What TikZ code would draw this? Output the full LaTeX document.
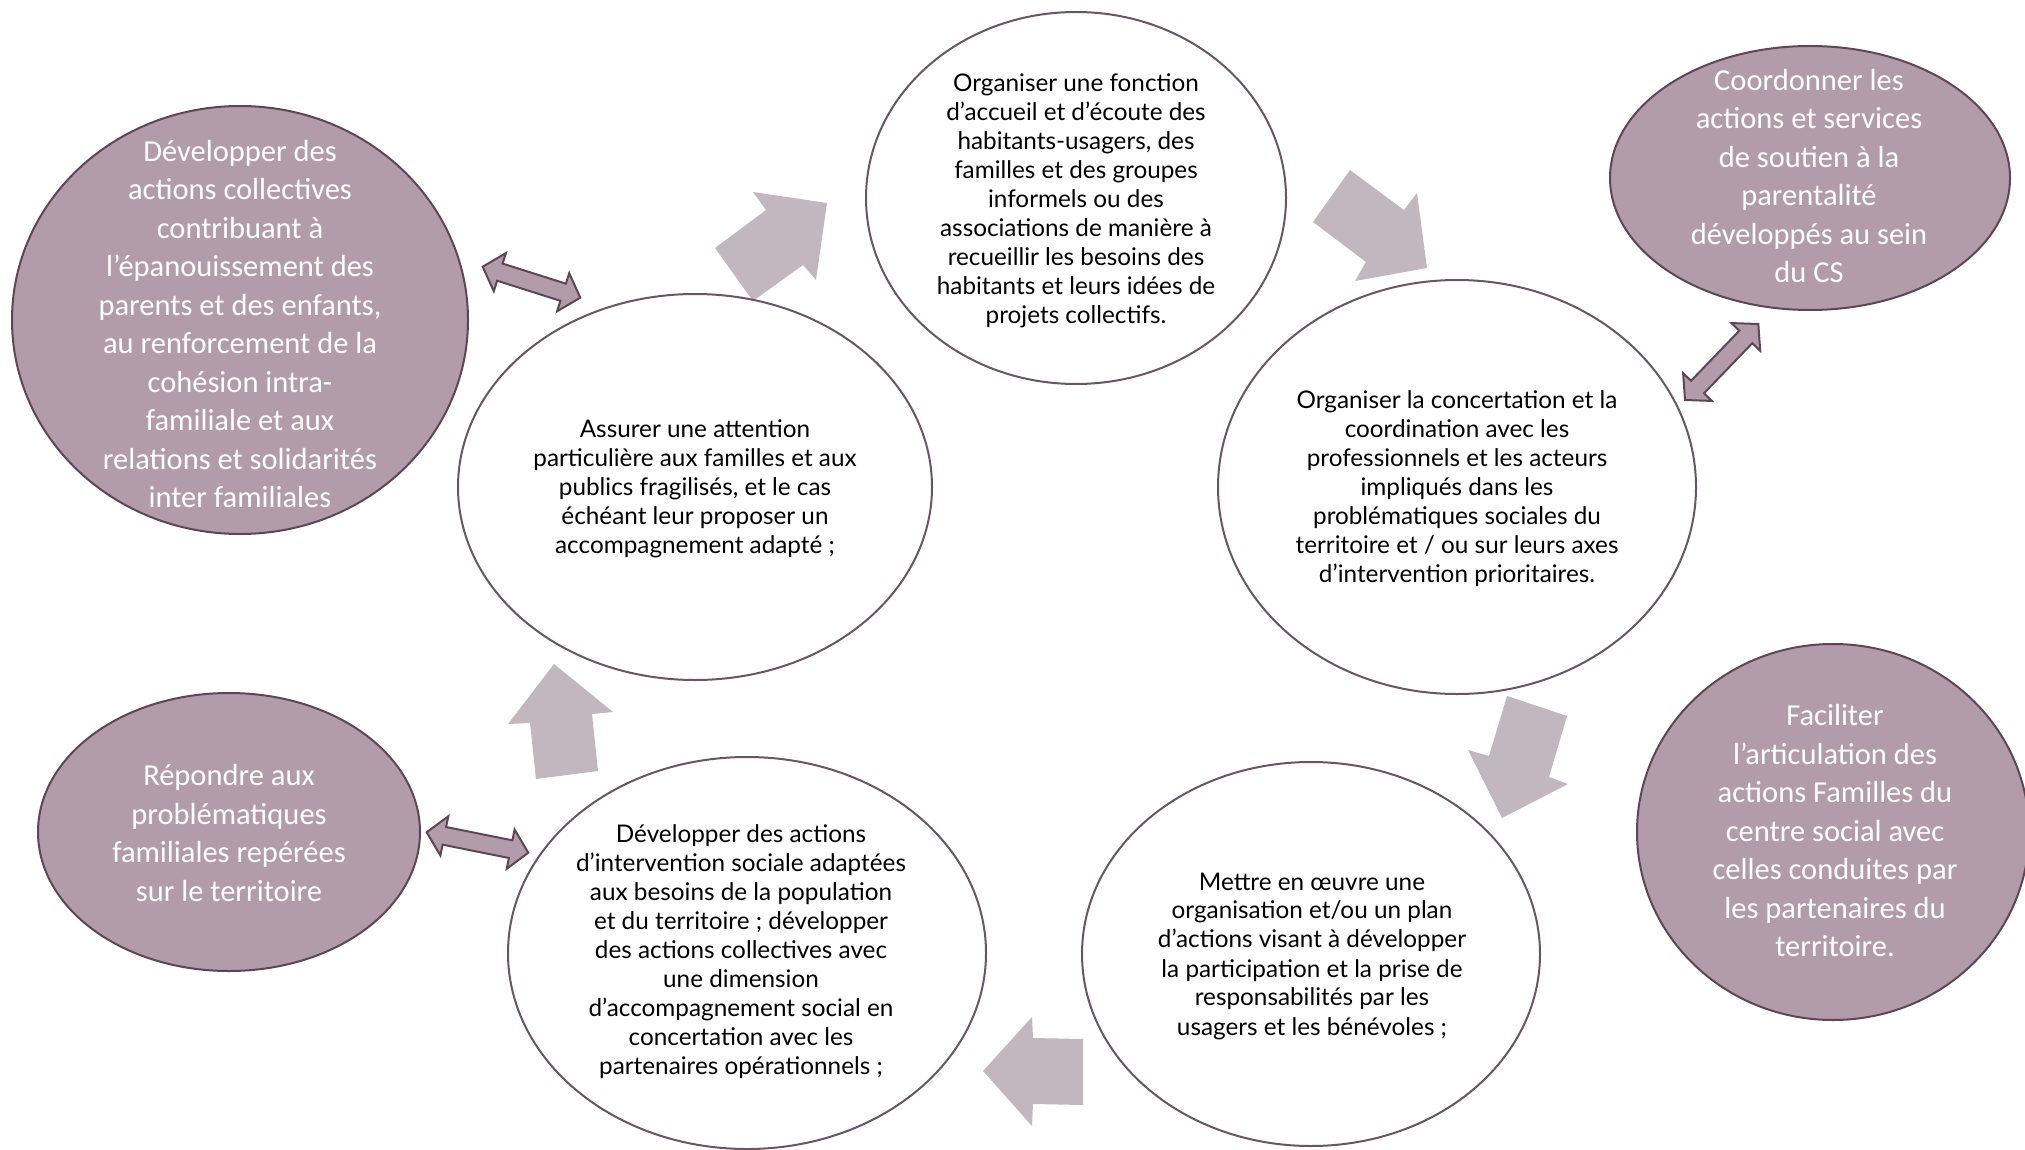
\documentclass[tikz,border=0pt]{standalone}
\usepackage{fontspec}
\setmainfont{Lato}
\newfontfamily\wfont{Lato}
\newfontfamily\ffont{Carlito}
\usetikzlibrary{shapes.geometric,calc}
\definecolor{fillc}{HTML}{B39CAA}
\definecolor{edgec}{HTML}{5E4657}
\definecolor{arrowc}{HTML}{C2B7BE}
\definecolor{wedge}{HTML}{6D5465}
\tikzset{
  whiteell/.style={shape=ellipse, draw=wedge, line width=2pt, fill=white, inner sep=0pt},
  fillell/.style={shape=ellipse, draw=edgec, line width=2pt, fill=fillc, inner sep=0pt},
  wtext/.style={align=center, inner sep=0pt, text=black, font=\wfont\fontsize{24.3}{29}\selectfont},
  ftext/.style={align=center, inner sep=0pt, text=white, font=\ffont\fontsize{30.5}{38.5}\selectfont},
  bigarrow/.style={fill=arrowc},
  dblstyle/.style={fill=fillc, draw=edgec, line width=2pt, line join=miter},
}
\newcommand\dblarrow[3]{%
  \coordinate (#1-h1) at ($(#2)!18pt!(#3)$);
  \coordinate (#1-h2) at ($(#3)!18pt!(#2)$);
  \draw[dblstyle] (#2) -- ($(#1-h1)!20pt!90:(#3)$) -- ($(#1-h1)!9pt!90:(#3)$)
    -- ($(#1-h2)!9pt!-90:(#2)$) -- ($(#1-h2)!20pt!-90:(#2)$) -- (#3)
    -- ($(#1-h2)!20pt!90:(#2)$) -- ($(#1-h2)!9pt!90:(#2)$)
    -- ($(#1-h1)!9pt!-90:(#3)$) -- ($(#1-h1)!20pt!-90:(#3)$) -- cycle;
}
\begin{document}
\begin{tikzpicture}[x=1pt,y=-1pt]
\useasboundingbox (0,0) rectangle (2025,1150);
% big cycle arrows
\fill[bigarrow] (753,192) -- (827,203) -- (816,280) -- (803,265) -- (753,301) -- (715,248) -- (766,210) -- cycle;
\fill[bigarrow] (1350,170) -- (1404,210) -- (1417,193) -- (1427,268) -- (1355,281) -- (1366,262) -- (1313,222) -- cycle;
\fill[bigarrow] (1507,696) -- (1567,716) -- (1549,777) -- (1568,784) -- (1502,818) -- (1468,750) -- (1489,756) -- cycle;
\fill[bigarrow] (983,1071) -- (1032,1017) -- (1033,1038) -- (1083,1039) -- (1083,1105) -- (1033,1104) -- (1032,1126) -- cycle;
\fill[bigarrow] (554,664) -- (613,712) -- (592,714) -- (598,771) -- (536,779) -- (530,723) -- (508,724) -- cycle;

% white ellipses
\node[whiteell, minimum width=474pt, minimum height=386pt] (B) at (695,487) {};
\node[whiteell, minimum width=420pt, minimum height=372pt] (C) at (1076,198) {};
\node[whiteell, minimum width=478pt, minimum height=414pt] (D) at (1457,487) {};
\node[whiteell, minimum width=458pt, minimum height=384pt] (E) at (1311,954) {};
\node[whiteell, minimum width=478pt, minimum height=392pt] (F) at (747,953) {};
% filled ellipses
\node[fillell, minimum width=456pt, minimum height=428pt] (A) at (240,320) {};
\node[fillell, minimum width=400pt, minimum height=264pt] (G) at (1810,178) {};
\node[fillell, minimum width=392pt, minimum height=376pt] (H) at (1833,832) {};
\node[fillell, minimum width=382pt, minimum height=278pt] (I) at (229,832) {};

% texts
\node[wtext] (Bt) at (695,489) {Assurer une attention\\particulière aux familles et aux\\publics fragilisés, et le cas\\échéant leur proposer un\\accompagnement adapté ;};
\node[wtext] (Ct) at (1076,201) {Organiser une fonction\\d’accueil et d’écoute des\\habitants-usagers, des\\familles et des groupes\\informels ou des\\associations de manière à\\recueillir les besoins des\\habitants et leurs idées de\\projets collectifs.};
\node[wtext] (Dt) at (1457,489) {Organiser la concertation et la\\coordination avec les\\professionnels et les acteurs\\impliqués dans les\\problématiques sociales du\\territoire et / ou sur leurs axes\\d’intervention prioritaires.};
\node[wtext] (Et) at (1312,956) {Mettre en œuvre une\\organisation et/ou un plan\\d’actions visant à développer\\la participation et la prise de\\responsabilités par les\\usagers et les bénévoles ;};
\node[wtext] (Ft) at (741,952) {Développer des actions\\d’intervention sociale adaptées\\aux besoins de la population\\et du territoire ; développer\\des actions collectives avec\\une dimension\\d’accompagnement social en\\concertation avec les\\partenaires opérationnels ;};
\node[ftext] (At) at (240,324) {Développer des\\actions collectives\\contribuant à\\l’épanouissement des\\parents et des enfants,\\au renforcement de la\\cohésion intra-\\familiale et aux\\relations et solidarités\\inter familiales};
\node[ftext] (Gt) at (1809,176) {Coordonner les\\actions et services\\de soutien à la\\parentalité\\développés au sein\\du CS};
\node[ftext] (Ht) at (1835,831) {Faciliter\\l’articulation des\\actions Familles du\\centre social avec\\celles conduites par\\les partenaires du\\territoire.};
\node[ftext] (It) at (229,833) {Répondre aux\\problématiques\\familiales repérées\\sur le territoire};

% double arrows
\coordinate (a1) at (482.7,266.7);
\coordinate (a2) at (580.3,297.7);
\coordinate (b1) at (1758.3,324);
\coordinate (b2) at (1685,400);
\coordinate (c1) at (426.7,832.3);
\coordinate (c2) at (528.3,852.7);
\dblarrow{da}{a1}{a2}
\dblarrow{db}{b1}{b2}
\dblarrow{dc}{c1}{c2}
\end{tikzpicture}
\end{document}
